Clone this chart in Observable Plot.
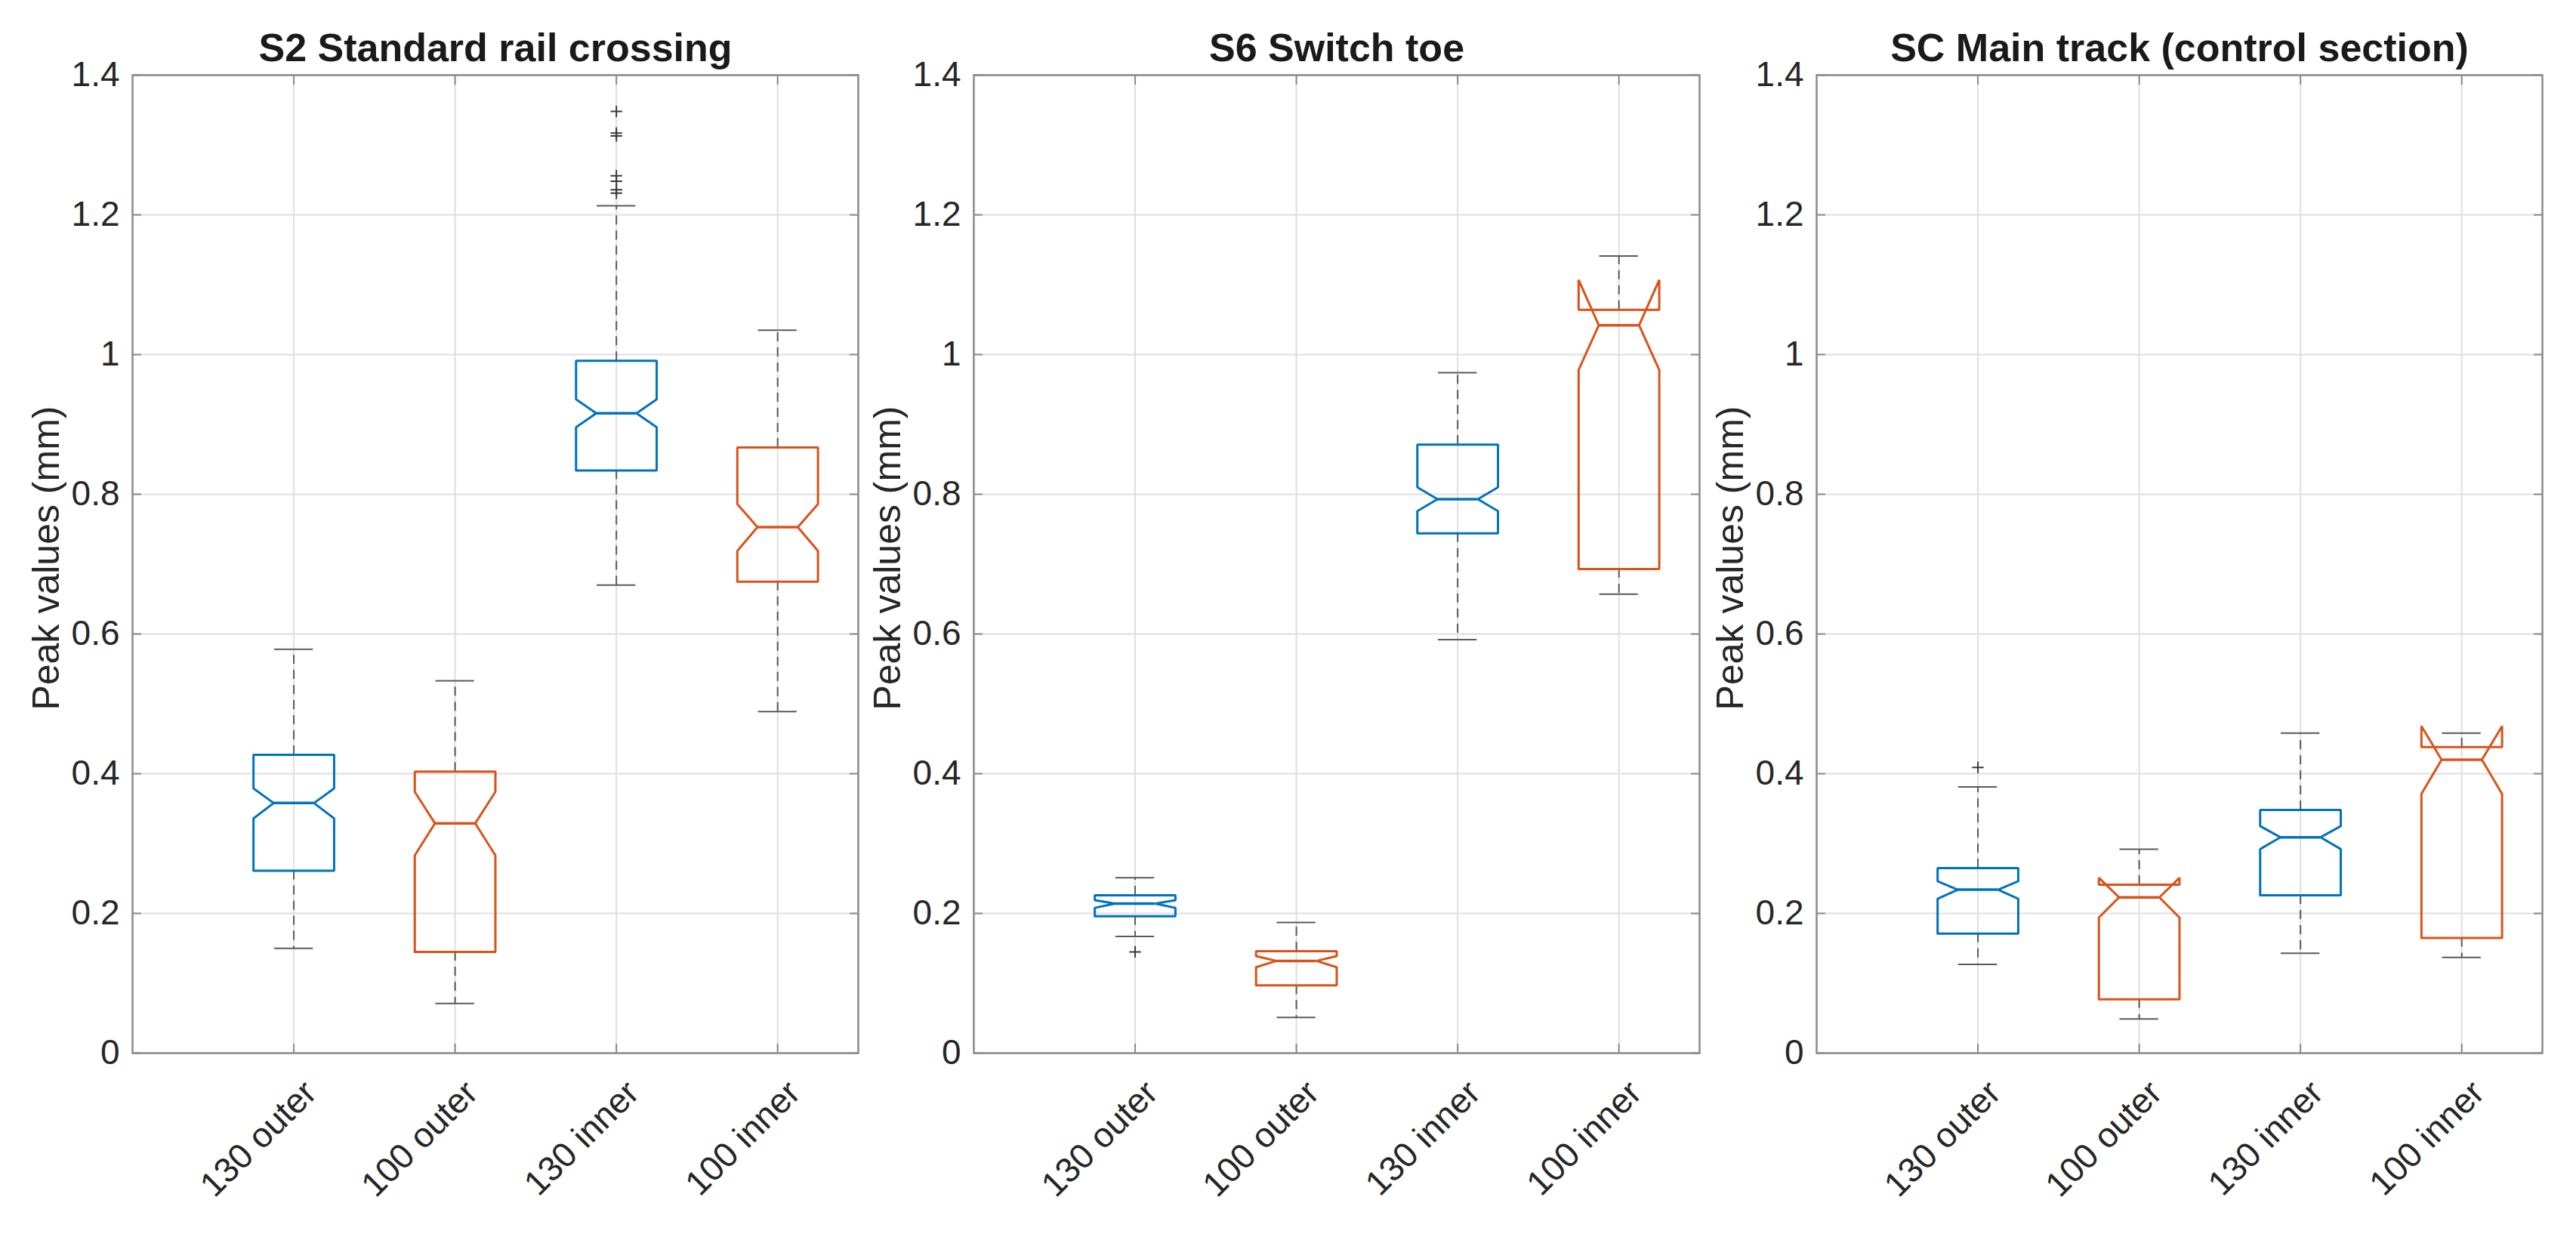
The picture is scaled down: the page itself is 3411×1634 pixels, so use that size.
<!DOCTYPE html>
<html>
<head>
<meta charset="utf-8">
<script src="https://cdn.jsdelivr.net/npm/d3@7"></script>
<script src="https://cdn.jsdelivr.net/npm/@observablehq/plot@0.6"></script>
<style>
  html, body { margin: 0; padding: 0; background: #fff; }
  #figure { position: relative; width: 3411px; height: 1634px; background: #fff; overflow: hidden; }
  #figure svg { position: absolute; top: 0; }
</style>
</head>
<body>
<div id="figure"></div>
<script>
// Categories, colours and axis ticks shared by the three panels
const groups = ["130 outer", "100 outer", "130 inner", "100 inner"];
const groupColors = ["#0072BD", "#D95319", "#0072BD", "#D95319"];
const yTicks = [0, 0.2, 0.4, 0.6, 0.8, 1, 1.2, 1.4];
const panelTitles = ["S2 Standard rail crossing", "S6 Switch toe", "SC Main track (control section)"];
const yLabel = "Peak values (mm)";

// S2 Standard rail crossing: box statistics per group (mm)
const s2Lower   = [0.150, 0.071, 0.670, 0.489];
const s2Q1      = [0.261, 0.145, 0.834, 0.675];
const s2NotchLo = [0.336, 0.283, 0.896, 0.719];
const s2Median  = [0.358, 0.329, 0.916, 0.753];
const s2NotchHi = [0.379, 0.374, 0.936, 0.786];
const s2Q3      = [0.427, 0.403, 0.991, 0.867];
const s2Upper   = [0.578, 0.533, 1.213, 1.035];
const s2OutlierGroup = [3, 3, 3, 3, 3, 3, 3];
const s2OutlierValue = [1.348, 1.317, 1.313, 1.256, 1.248, 1.236, 1.231];

// S6 Switch toe
const s6Lower   = [0.167, 0.051, 0.592, 0.657];
const s6Q1      = [0.196, 0.097, 0.744, 0.693];
const s6NotchLo = [0.208, 0.123, 0.776, 0.978];
const s6Median  = [0.214, 0.132, 0.793, 1.042];
const s6NotchHi = [0.219, 0.139, 0.810, 1.107];
const s6Q3      = [0.226, 0.146, 0.871, 1.064];
const s6Upper   = [0.251, 0.187, 0.974, 1.141];
const s6OutlierGroup = [1];
const s6OutlierValue = [0.145];

// SC Main track (control section)
const scLower   = [0.127, 0.049, 0.143, 0.137];
const scQ1      = [0.171, 0.077, 0.226, 0.165];
const scNotchLo = [0.221, 0.194, 0.292, 0.371];
const scMedian  = [0.234, 0.223, 0.309, 0.420];
const scNotchHi = [0.246, 0.251, 0.325, 0.468];
const scQ3      = [0.265, 0.241, 0.348, 0.438];
const scUpper   = [0.381, 0.292, 0.458, 0.458];
const scOutlierGroup = [1];
const scOutlierValue = [0.409];

const panels = [
  {title: panelTitles[0], left: 0,    lower: s2Lower, q1: s2Q1, nlo: s2NotchLo, med: s2Median, nhi: s2NotchHi, q3: s2Q3, upper: s2Upper, og: s2OutlierGroup, ov: s2OutlierValue},
  {title: panelTitles[1], left: 1114, lower: s6Lower, q1: s6Q1, nlo: s6NotchLo, med: s6Median, nhi: s6NotchHi, q3: s6Q3, upper: s6Upper, og: s6OutlierGroup, ov: s6OutlierValue},
  {title: panelTitles[2], left: 2230, lower: scLower, q1: scQ1, nlo: scNotchLo, med: scMedian, nhi: scNotchHi, q3: scQ3, upper: scUpper, og: scOutlierGroup, ov: scOutlierValue}
];

const BOX_HALF = 0.25;    // box half-width, in category units
const NOTCH_HALF = 0.125; // half-width at the notch waist
const CAP_HALF = 0.12;    // whisker cap half-width
const axisGray = "#8a8a8a";
const whiskerGray = "#5a5a5a";
const textColor = "#262626";
const fmt = d => String(+d.toFixed(1));

function drawPanel(p) {
  const boxes = groups.map((g, i) => ({
    pos: i + 1, color: groupColors[i],
    lower: p.lower[i], q1: p.q1[i], nlo: p.nlo[i], med: p.med[i],
    nhi: p.nhi[i], q3: p.q3[i], upper: p.upper[i]
  }));

  // Notched outline: q1 → notch → median waist → notch → q3 and back down the other side.
  // When the notch reaches beyond a quartile, the same path folds out into "ears".
  const outline = boxes.flatMap(b => {
    const c = b.pos;
    return [
      [c - BOX_HALF, b.q1], [c - BOX_HALF, b.nlo], [c - NOTCH_HALF, b.med],
      [c - BOX_HALF, b.nhi], [c - BOX_HALF, b.q3], [c + BOX_HALF, b.q3],
      [c + BOX_HALF, b.nhi], [c + NOTCH_HALF, b.med], [c + BOX_HALF, b.nlo],
      [c + BOX_HALF, b.q1], [c - BOX_HALF, b.q1]
    ].map(([x, y]) => ({box: c, color: b.color, x, y}));
  });

  const outliers = p.og.map((g, i) => ({pos: g, value: p.ov[i]}));

  const svg = Plot.plot({
    width: 1146, height: 1634,
    marginLeft: 175, marginRight: 10, marginTop: 99, marginBottom: 240,
    x: {type: "linear", domain: [0, 4.5], axis: null},
    y: {domain: [0, 1.4], axis: null},
    color: {type: "identity"},
    style: {
      fontFamily: "'Liberation Sans', Arial, Helvetica, sans-serif",
      fontSize: "46px", color: textColor,
      background: "transparent", overflow: "visible", maxWidth: "none"
    },
    marks: [
      Plot.gridY(yTicks, {stroke: "#dfdfdf", strokeOpacity: 1, strokeWidth: 2}),
      Plot.gridX([1, 2, 3, 4], {stroke: "#dfdfdf", strokeOpacity: 1, strokeWidth: 2}),

      // whiskers and caps
      Plot.ruleX(boxes, {x: "pos", y1: "q3", y2: "upper", stroke: whiskerGray, strokeWidth: 2, strokeDasharray: "12,8"}),
      Plot.ruleX(boxes, {x: "pos", y1: "q1", y2: "lower", stroke: whiskerGray, strokeWidth: 2, strokeDasharray: "12,8"}),
      Plot.ruleY(boxes, {y: "upper", x1: d => d.pos - CAP_HALF, x2: d => d.pos + CAP_HALF, stroke: whiskerGray, strokeWidth: 2}),
      Plot.ruleY(boxes, {y: "lower", x1: d => d.pos - CAP_HALF, x2: d => d.pos + CAP_HALF, stroke: whiskerGray, strokeWidth: 2}),

      // notched boxes and medians
      Plot.line(outline, {x: "x", y: "y", z: "box", stroke: "color", strokeWidth: 3, strokeLinejoin: "miter", curve: "linear"}),
      Plot.ruleY(boxes, {y: "med", x1: d => d.pos - NOTCH_HALF, x2: d => d.pos + NOTCH_HALF, stroke: "color", strokeWidth: 3.5}),

      // outliers
      Plot.dot(outliers, {x: "pos", y: "value", symbol: "plus", r: 5, stroke: "#3a3a3a", strokeWidth: 2}),

      // axes box with inward ticks on all sides
      Plot.frame({stroke: axisGray, strokeWidth: 2.5}),
      Plot.axisY({ticks: yTicks, tickSize: -12, fill: "none", stroke: axisGray, strokeWidth: 2, label: null}),
      Plot.axisY({anchor: "right", ticks: yTicks, tickSize: -12, fill: "none", stroke: axisGray, strokeWidth: 2, label: null}),
      Plot.axisX({ticks: [1, 2, 3, 4], tickSize: -12, fill: "none", stroke: axisGray, strokeWidth: 2, label: null}),
      Plot.axisX({anchor: "top", ticks: [1, 2, 3, 4], tickSize: -12, fill: "none", stroke: axisGray, strokeWidth: 2, label: null}),

      // tick labels
      Plot.axisY({ticks: yTicks, tickSize: 0, tickPadding: 17, tickFormat: fmt, fontSize: 46, fill: textColor, stroke: "none", label: null}),
      Plot.axisX({ticks: [1, 2, 3, 4], tickSize: 0, tickPadding: 45, dx: 22, tickRotate: -45,
                  tickFormat: i => groups[i - 1], fontSize: 46, fill: textColor, stroke: "none", label: null}),

      // title and y label
      Plot.text([p.title], {text: d => d, frameAnchor: "top", dy: -19, lineAnchor: "bottom",
                            fontWeight: "bold", fontSize: 52, fill: "#1a1a1a"}),
      Plot.text([yLabel], {text: d => d, frameAnchor: "left", dx: -114, dy: -8, rotate: -90,
                           textAnchor: "middle", fontSize: 50, fill: textColor})
    ]
  });
  svg.style.left = p.left + "px";
  document.getElementById("figure").appendChild(svg);
}

panels.forEach(drawPanel);
</script>
</body>
</html>
